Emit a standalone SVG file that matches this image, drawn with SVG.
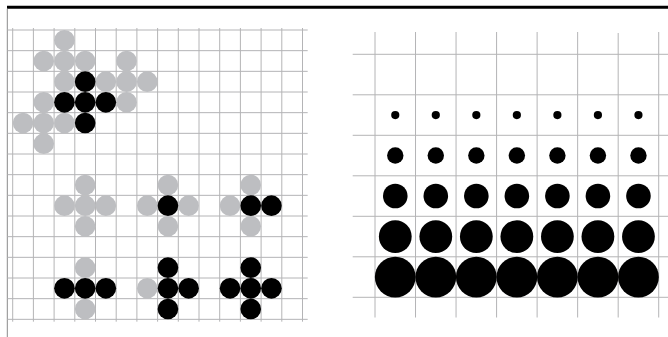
<svg xmlns="http://www.w3.org/2000/svg" width="668" height="337" viewBox="0 0 668 337">
<style>
.grid{stroke:#b4b4b6;stroke-width:1;fill:none}
.g{fill:#bdbec1}
.b{fill:#000}
</style>
<rect width="668" height="337" fill="#fff"/>
<g id="frame">
<line x1="7" y1="7.2" x2="668" y2="7.2" stroke="#000" stroke-width="3"/>
<line x1="7.3" y1="8.7" x2="7.3" y2="337" stroke="#8a8a8a" stroke-width="1"/>
</g>
<g id="left-grid" class="grid">
<path d="M12.7 28V321.7M33.4 28V321.7M54.1 28V321.7M74.8 28V321.7M95.5 28V321.7M116.2 28V321.7M136.9 28V321.7M157.6 28V321.7M178.3 28V321.7M199 28V321.7M219.7 28V321.7M240.4 28V321.7M261.1 28V321.7M281.8 28V321.7M302.5 28V321.7"/>
<path d="M7.5 30H307.7M7.5 50.67H307.7M7.5 71.33H307.7M7.5 92H307.7M7.5 112.67H307.7M7.5 133.33H307.7M7.5 154H307.7M7.5 174.67H307.7M7.5 195.33H307.7M7.5 216H307.7M7.5 236.67H307.7M7.5 257.33H307.7M7.5 278H307.7M7.5 298.67H307.7M7.5 319.33H307.7"/>
</g>
<g id="right-grid" class="grid">
<path d="M375 32V317.5M415.53 32V317.5M456.06 32V317.5M496.59 32V317.5M537.12 32V317.5M577.65 32V317.5M618.18 33V317.5M658.71 32V317.5"/>
<path d="M352.7 54.3H668M352.7 94.8H668M352.7 135.3H668M352.7 175.8H668M352.7 216.3H668M352.7 256.8H668M352.7 297.3H668"/>
</g>
<g id="top-pattern">
<circle class="g" cx="64.45" cy="40.33" r="10.3"/>
<circle class="g" cx="43.75" cy="61" r="10.3"/>
<circle class="g" cx="64.45" cy="61" r="10.3"/>
<circle class="g" cx="85.15" cy="61" r="10.3"/>
<circle class="g" cx="126.55" cy="61" r="10.3"/>
<circle class="g" cx="64.45" cy="81.67" r="10.3"/>
<circle class="g" cx="105.85" cy="81.67" r="10.3"/>
<circle class="g" cx="126.55" cy="81.67" r="10.3"/>
<circle class="g" cx="147.25" cy="81.67" r="10.3"/>
<circle class="g" cx="43.75" cy="102.33" r="10.3"/>
<circle class="g" cx="126.55" cy="102.33" r="10.3"/>
<circle class="g" cx="23.05" cy="123" r="10.3"/>
<circle class="g" cx="43.75" cy="123" r="10.3"/>
<circle class="g" cx="64.45" cy="123" r="10.3"/>
<circle class="g" cx="43.75" cy="143.67" r="10.3"/>
<circle class="b" cx="85.15" cy="81.67" r="10.3"/>
<circle class="b" cx="64.45" cy="102.33" r="10.3"/>
<circle class="b" cx="85.15" cy="102.33" r="10.3"/>
<circle class="b" cx="105.85" cy="102.33" r="10.3"/>
<circle class="b" cx="85.15" cy="123" r="10.3"/>
</g>
<g id="pattern-1">
<circle class="g" cx="85.15" cy="185" r="10.3"/>
<circle class="g" cx="64.45" cy="205.67" r="10.3"/>
<circle class="g" cx="85.15" cy="205.67" r="10.3"/>
<circle class="g" cx="105.85" cy="205.67" r="10.3"/>
<circle class="g" cx="85.15" cy="226.33" r="10.3"/>
</g>
<g id="pattern-2">
<circle class="g" cx="167.95" cy="185" r="10.3"/>
<circle class="g" cx="147.25" cy="205.67" r="10.3"/>
<circle class="g" cx="188.65" cy="205.67" r="10.3"/>
<circle class="g" cx="167.95" cy="226.33" r="10.3"/>
<circle class="b" cx="167.95" cy="205.67" r="10.3"/>
</g>
<g id="pattern-3">
<circle class="g" cx="250.75" cy="185" r="10.3"/>
<circle class="g" cx="230.05" cy="205.67" r="10.3"/>
<circle class="g" cx="250.75" cy="226.33" r="10.3"/>
<circle class="b" cx="250.75" cy="205.67" r="10.3"/>
<circle class="b" cx="271.45" cy="205.67" r="10.3"/>
</g>
<g id="pattern-4">
<circle class="g" cx="85.15" cy="267.67" r="10.3"/>
<circle class="g" cx="85.15" cy="309" r="10.3"/>
<circle class="b" cx="64.45" cy="288.33" r="10.3"/>
<circle class="b" cx="85.15" cy="288.33" r="10.3"/>
<circle class="b" cx="105.85" cy="288.33" r="10.3"/>
</g>
<g id="pattern-5">
<circle class="g" cx="147.25" cy="288.33" r="10.3"/>
<circle class="b" cx="167.95" cy="267.67" r="10.3"/>
<circle class="b" cx="167.95" cy="288.33" r="10.3"/>
<circle class="b" cx="188.65" cy="288.33" r="10.3"/>
<circle class="b" cx="167.95" cy="309" r="10.3"/>
</g>
<g id="pattern-6">
<circle class="b" cx="250.75" cy="267.67" r="10.3"/>
<circle class="b" cx="230.05" cy="288.33" r="10.3"/>
<circle class="b" cx="250.75" cy="288.33" r="10.3"/>
<circle class="b" cx="271.45" cy="288.33" r="10.3"/>
<circle class="b" cx="250.75" cy="309" r="10.3"/>
</g>
<g id="dots" class="b">
<g id="row-1">
<circle cx="395.27" cy="115.05" r="4.1"/><circle cx="435.8" cy="115.05" r="4.1"/><circle cx="476.33" cy="115.05" r="4.1"/><circle cx="516.86" cy="115.05" r="4.1"/><circle cx="557.39" cy="115.05" r="4.1"/><circle cx="597.92" cy="115.05" r="4.1"/><circle cx="638.45" cy="115.05" r="4.1"/>
</g>
<g id="row-2">
<circle cx="395.27" cy="155.55" r="8.2"/><circle cx="435.8" cy="155.55" r="8.2"/><circle cx="476.33" cy="155.55" r="8.2"/><circle cx="516.86" cy="155.55" r="8.2"/><circle cx="557.39" cy="155.55" r="8.2"/><circle cx="597.92" cy="155.55" r="8.2"/><circle cx="638.45" cy="155.55" r="8.2"/>
</g>
<g id="row-3">
<circle cx="395.27" cy="196.05" r="12.3"/><circle cx="435.8" cy="196.05" r="12.3"/><circle cx="476.33" cy="196.05" r="12.3"/><circle cx="516.86" cy="196.05" r="12.3"/><circle cx="557.39" cy="196.05" r="12.3"/><circle cx="597.92" cy="196.05" r="12.3"/><circle cx="638.45" cy="196.05" r="12.3"/>
</g>
<g id="row-4">
<circle cx="395.27" cy="236.55" r="16.4"/><circle cx="435.8" cy="236.55" r="16.4"/><circle cx="476.33" cy="236.55" r="16.4"/><circle cx="516.86" cy="236.55" r="16.4"/><circle cx="557.39" cy="236.55" r="16.4"/><circle cx="597.92" cy="236.55" r="16.4"/><circle cx="638.45" cy="236.55" r="16.4"/>
</g>
<g id="row-5">
<circle cx="395.27" cy="277.05" r="20.4"/><circle cx="435.8" cy="277.05" r="20.4"/><circle cx="476.33" cy="277.05" r="20.4"/><circle cx="516.86" cy="277.05" r="20.4"/><circle cx="557.39" cy="277.05" r="20.4"/><circle cx="597.92" cy="277.05" r="20.4"/><circle cx="638.45" cy="277.05" r="20.4"/>
</g>
</g>
</svg>
